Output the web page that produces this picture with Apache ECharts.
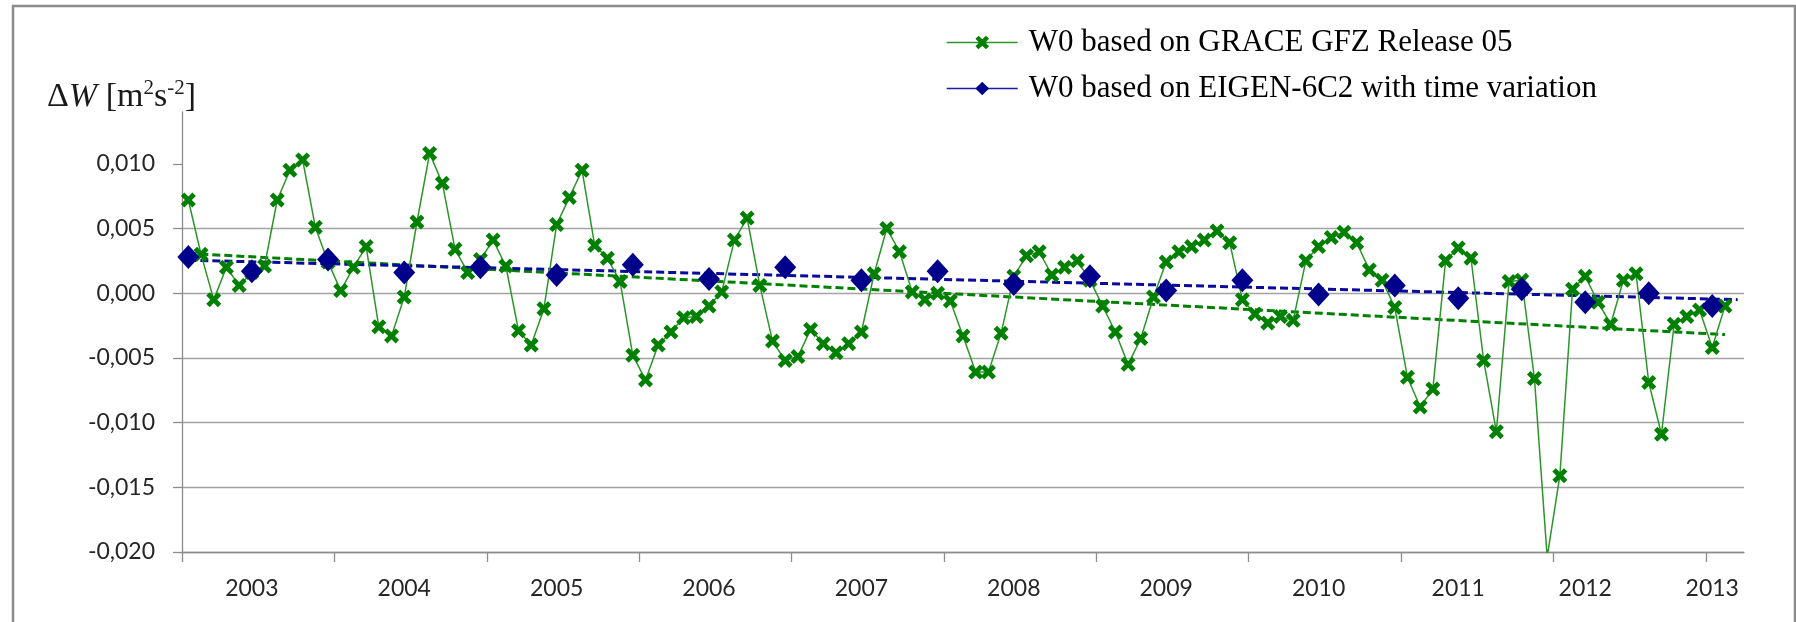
<!DOCTYPE html>
<html>
<head>
<meta charset="utf-8">
<title>W0 time series</title>
<script src="https://cdn.jsdelivr.net/npm/echarts@6/dist/echarts.min.js"></script>
<style>
  html, body { margin: 0; padding: 0; background: #ffffff; }
  #chart { width: 1796px; height: 622px; }
</style>
</head>
<body>
<div id="chart"></div>
<script>
// W0 from the monthly GRACE GFZ Release 05 solutions [m^2 s^-2], one value per solution
const graceW0 = [
  0.0072, 0.0030, -0.0005, 0.0020, 0.0006, 0.0016, 0.0021, 0.0072, 0.0095, 0.0103,
  0.0051, 0.0024, 0.0002, 0.0020, 0.0036, -0.0026, -0.0033, -0.0003, 0.0055, 0.0108,
  0.0085, 0.0034, 0.0016, 0.0026, 0.0041, 0.0021, -0.0029, -0.0040, -0.0012, 0.0053,
  0.0074, 0.0095, 0.0037, 0.0027, 0.0009, -0.0048, -0.0067, -0.0040, -0.0030, -0.0019,
  -0.0018, -0.0010, 0.0001, 0.0041, 0.0058, 0.0006, -0.0037, -0.0052, -0.0049, -0.0028,
  -0.0039, -0.0046, -0.0039, -0.0030, 0.0015, 0.0050, 0.0032, 0.0001, -0.0005, 0.0000,
  -0.0006, -0.0033, -0.0061, -0.0061, -0.0031, 0.0013, 0.0029, 0.0032, 0.0014, 0.0020,
  0.0025, 0.0010, -0.0010, -0.0030, -0.0055, -0.0035, -0.0003, 0.0024, 0.0032, 0.0036,
  0.0041, 0.0048, 0.0039, -0.0005, -0.0016, -0.0023, -0.0018, -0.0021, 0.0025, 0.0036,
  0.0043, 0.0047, 0.0039, 0.0018, 0.0010, -0.0011, -0.0065, -0.0088, -0.0074, 0.0025,
  0.0035, 0.0027, -0.0052, -0.0107, 0.0009, 0.0010, -0.0066, -0.0204, -0.0141, 0.0003,
  0.0013, -0.0007, -0.0024, 0.0010, 0.0015, -0.0069, -0.0109, -0.0024, -0.0018, -0.0013,
  -0.0042, -0.0010
];

// W0 from EIGEN-6C2 with time variation, evaluated twice a year (solution index)
const eigenAt = [0, 5, 11, 17, 23, 29, 35, 41, 47, 53, 59, 65, 71, 77, 83, 89, 95, 100, 105, 110, 115, 120];
const eigenW0 = [
  0.0028, 0.0017, 0.0026, 0.0016, 0.0020, 0.0014, 0.0022, 0.0011, 0.0020, 0.0010, 0.0017,
  0.0007, 0.0013, 0.0002, 0.0010, -0.0001, 0.0006, -0.0004, 0.0003, -0.0007, 0.0000, -0.0010
];

// Linear trends, start and end values
const graceTrendAt = [0, 121];
const graceTrendW0 = [0.00307, -0.0032];
const eigenTrendAt = [0, 122];
const eigenTrendW0 = [0.00255, -0.0005];

// Axis labelling
const yearLabels = ['2003', '2004', '2005', '2006', '2007', '2008', '2009', '2010', '2011', '2012', '2013'];
const yearLabelAt = [5, 17, 29, 41, 53, 65, 77, 89, 100, 110, 120];
const yTicks = [-0.020, -0.015, -0.010, -0.005, 0.000, 0.005, 0.010];

const SOLUTIONS = 123;          // slots on the time axis
const TICK_EVERY = 12;          // major tick every 12 solutions
const xTickAt = [];
for (let k = 0; k * TICK_EVERY < SOLUTIONS - 1; k++) xTickAt.push(k * TICK_EVERY - 0.5);

const GREY_AXIS = '#8c8c8c';
const GREY_GRID = '#a3a3a3';
const GREEN = '#008000';
const NAVY = '#00008b';
const X_MARK = 'path://M0,2.3L2.3,0L5,2.7L7.7,0L10,2.3L7.3,5L10,7.7L7.7,10L5,7.3L2.3,10L0,7.7L2.7,5Z';

const NAME_GRACE = 'W0 based on GRACE GFZ Release 05';
const NAME_EIGEN = 'W0 based on EIGEN-6C2 with time variation';

const pairs = (xs, ys) => xs.map((x, i) => [x, ys[i]]);

const chart = echarts.init(document.getElementById('chart'), null, { renderer: 'canvas' });

chart.setOption({
  animation: false,
  backgroundColor: '#ffffff',
  graphic: [{
    type: 'rect',
    silent: true,
    shape: { x: 13, y: 6, width: 1782, height: 700 },
    style: { fill: 'none', stroke: '#8c8c8c', lineWidth: 2.5 },
    z: 0
  }],
  title: {
    left: 47,
    top: 78,
    padding: 0,
    text: '{d|\u0394}{w|W}{d| [m}{s|2}{d|s}{s|-2}{d|]}',
    textStyle: {
      fontWeight: 'normal',
      rich: {
        d: { fontFamily: 'Liberation Serif', fontSize: 34, fontWeight: 'normal', color: '#1a1a1a', lineHeight: 38 },
        w: { fontFamily: 'Liberation Serif', fontSize: 34, fontWeight: 'normal', fontStyle: 'italic', color: '#1a1a1a', lineHeight: 38 },
        s: { fontFamily: 'Liberation Serif', fontSize: 21, fontWeight: 'normal', color: '#1a1a1a', lineHeight: 21, verticalAlign: 'top', padding: [0, 0, 0, 0] }
      }
    }
  },
  legend: {
    left: 946,
    top: 27,
    orient: 'vertical',
    padding: 0,
    itemWidth: 71,
    itemHeight: 17,
    itemGap: 15,
    selectedMode: false,
    textStyle: { fontFamily: 'Liberation Serif', fontSize: 31, color: '#000000', lineHeight: 31, padding: [0, 0, 0, 6] },
    data: [
      { name: NAME_GRACE, lineStyle: { color: '#2b952b', width: 1.5 } },
      { name: NAME_EIGEN, lineStyle: { color: '#1c1caa', width: 1.5, opacity: 1 } }
    ]
  },
  grid: {
    left: 182,
    right: 52,
    top: 112,
    bottom: 70,
    containLabel: false,
    outerBoundsMode: 'none'
  },
  xAxis: {
    type: 'value',
    min: -0.5,
    max: SOLUTIONS - 0.5,
    axisLine: { show: true, onZero: false, lineStyle: { color: GREY_AXIS, width: 1.3 } },
    axisTick: { show: true, customValues: xTickAt, length: 10, lineStyle: { color: GREY_AXIS, width: 1.3 } },
    axisLabel: {
      customValues: yearLabelAt,
      formatter: (v) => { const i = yearLabelAt.indexOf(v); return i >= 0 ? yearLabels[i] : ''; },
      margin: 25,
      fontFamily: 'Lato',
      fontSize: 23,
      color: '#262626'
    },
    splitLine: { show: false }
  },
  yAxis: {
    type: 'value',
    min: -0.020,
    max: 0.014,
    interval: 0.005,
    axisLine: { show: true, onZero: false, lineStyle: { color: GREY_AXIS, width: 1.3 } },
    axisTick: { show: true, customValues: yTicks, length: 9, lineStyle: { color: GREY_AXIS, width: 1.3 } },
    axisLabel: {
      customValues: yTicks,
      formatter: (v) => v.toFixed(3).replace('.', ','),
      margin: 27,
      fontFamily: 'Lato',
      fontSize: 23,
      color: '#262626'
    },
    splitLine: { show: true, showMaxLine: false, lineStyle: { color: GREY_GRID, width: 1.3 } }
  },
  series: [
    {
      name: 'GRACE trend',
      type: 'line',
      data: pairs(graceTrendAt, graceTrendW0),
      symbol: 'none',
      silent: true,
      z: 2,
      lineStyle: { color: GREEN, width: 3, type: [8, 4] }
    },
    {
      name: 'EIGEN trend',
      type: 'line',
      data: pairs(eigenTrendAt, eigenTrendW0),
      symbol: 'none',
      silent: true,
      z: 2,
      lineStyle: { color: '#0a0a9c', width: 3, type: [8, 4] }
    },
    {
      name: NAME_GRACE,
      type: 'line',
      data: graceW0.map((v, i) => [i, v]),
      connectNulls: true,
      clip: true,
      symbol: X_MARK,
      symbolSize: 15,
      z: 3,
      itemStyle: { color: GREEN },
      lineStyle: { color: '#2b952b', width: 1.5 }
    },
    {
      name: NAME_EIGEN,
      type: 'line',
      data: pairs(eigenAt, eigenW0),
      symbol: 'diamond',
      symbolSize: [22, 24],
      z: 4,
      itemStyle: { color: NAVY },
      lineStyle: { width: 0, opacity: 0 }
    }
  ]
});
</script>
</body>
</html>
